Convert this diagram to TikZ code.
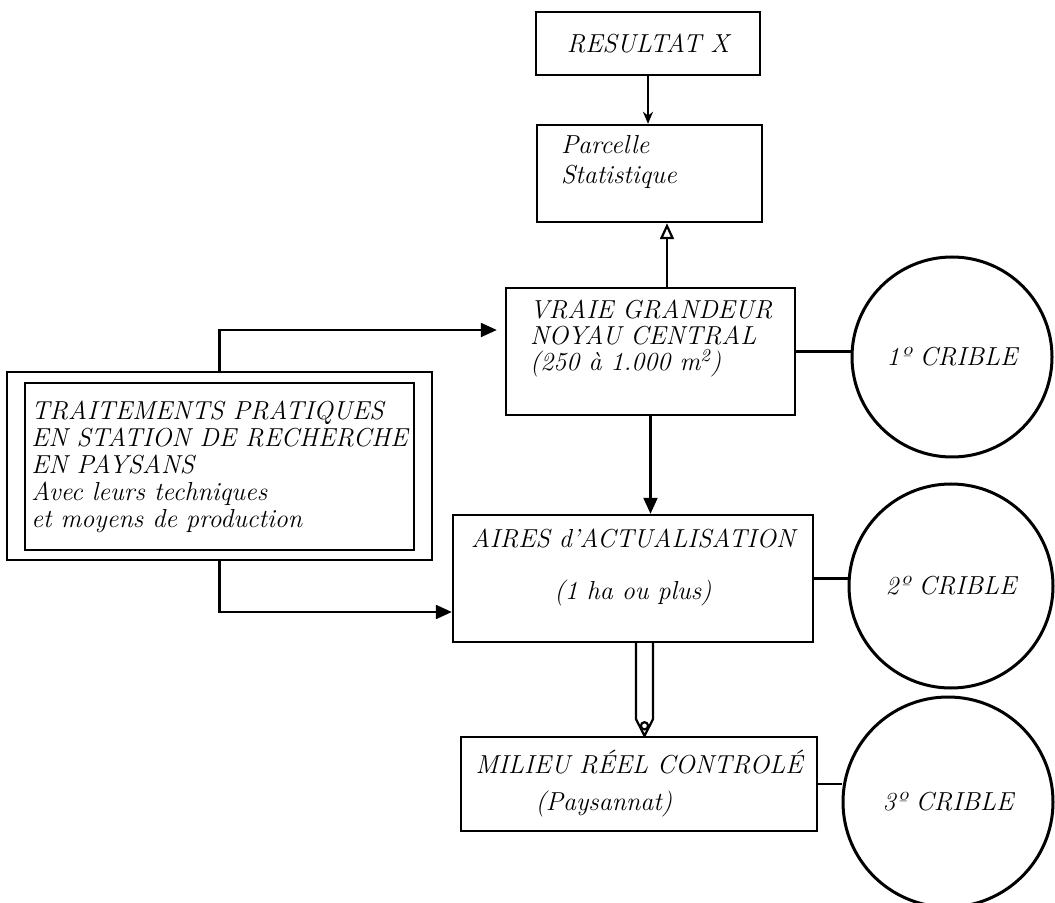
\documentclass[tikz,border=0pt]{standalone}
\usetikzlibrary{arrows.meta}
\tikzset{
  box/.style={draw, line width=1.2pt, font=\fontsize{13}{13.5}\selectfont\itshape},
  crible/.style={draw, circle, line width=1.5pt, minimum size=#1, inner sep=0pt, font=\fontsize{13}{15}\selectfont\itshape},
  line/.style={line width=1.1pt},
}
\begin{document}
\begin{tikzpicture}[x=0.5pt, y=-0.5pt, >={Triangle[length=8pt,width=7pt]}]
\useasboundingbox (0,0) rectangle (1055,903);

\node[box, minimum width=112pt, minimum height=31.5pt] (res) at (648,43.5) {RESULTAT X};
\node[box, inner sep=0pt] (parc) at (649.5,173.5) {\parbox[c][48.5pt][t]{112.5pt}{\leftskip=12pt\baselineskip=15pt\vspace*{5pt}Parcelle\\Statistique}};
\node[box, inner sep=0pt] (vraie) at (650.5,351.5) {\parbox[c][63.5pt][t]{144.5pt}{\leftskip=12pt\baselineskip=13pt\vspace*{6pt}VRAIE GRANDEUR\\NOYAU CENTRAL\\(250 à 1.000 m\textsuperscript{2})}};
\node[box, minimum width=212.5pt, minimum height=94pt] (trt) at (219.5,466) {};
\node[box, minimum width=193.5pt, minimum height=83.5pt, align=left] (trtin) at (219.5,466.5) {TRAITEMENTS PRATIQUES\\EN STATION DE RECHERCHE\\EN PAYSANS\\Avec leurs techniques\\et moyens de production};
\node[box, inner sep=0pt] (aires) at (633,578.5) {\parbox[c][63.5pt][t]{180pt}{\centering\vspace*{7pt}AIRES d'ACTUALISATION\\[12.5pt](1 ha ou plus)}};
\node[box, minimum width=178pt, minimum height=47pt, align=left] (milieu) at (639,784) {MILIEU RÉEL CONTROLÉ\\[5pt]\hspace*{30pt}(Paysannat)};

\node[crible=100pt] (c1) at (952,357) {1º CRIBLE};
\node[crible=102pt] (c2) at (951,586) {2º CRIBLE};
\node[crible=105pt] (c3) at (948,802) {3º CRIBLE};

\draw[line, -{Stealth[open,length=6pt,width=5pt]}] (res.south) -- (res.south |- parc.north);
\draw[line, -{Triangle[open,length=8pt,width=7pt]}] ([xshift=8.25pt]vraie.north) -- ([xshift=8.25pt]vraie.north |- parc.south);
\draw[line, ->] (trt.north) |- ([xshift=-4pt,yshift=10.75pt]vraie.west);
\draw[line, ->] (trt.south) |- ([yshift=-16.75pt]aires.west);
\draw[line, ->] (vraie.south) -- (vraie.south |- aires.north);
\draw[line] (vraie.east) -- (vraie.east -| c1.west);
\draw[line] (aires.east) -- (aires.east -| c2.west);
\draw[line] (milieu.east) -- (milieu.east -| c3.west);

% double shaft arrow to the real milieu
\coordinate (pen) at ([xshift=5.75pt]aires.south);
\draw[line] ([xshift=-4.25pt]pen) -- ++(0,76) -- (pen |- milieu.north) -- ([xshift=4.25pt,yshift=-38pt]pen) -- ([xshift=4.25pt]pen);
\draw[line] ([yshift=5pt]pen |- milieu.north) circle (1.8pt);
\end{tikzpicture}
\end{document}
